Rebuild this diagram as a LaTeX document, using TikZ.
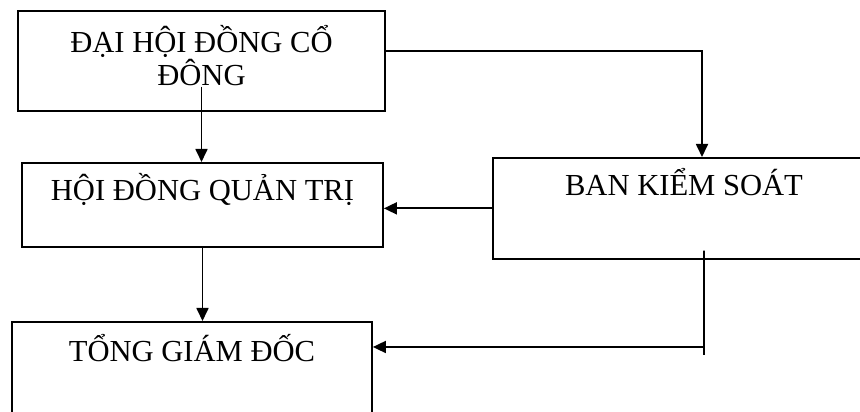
\documentclass[tikz,border=0pt]{standalone}
\usepackage{fontspec}
\setmainfont{Liberation Serif}
\usepackage{tikz}
\usetikzlibrary{arrows.meta}
\tikzset{
    khoi/.style={draw,line width=1pt,rectangle,inner sep=0pt,anchor=north,align=center,
        font=\fontsize{17.4}{17}\selectfont},
    muiten/.style={line width=1pt,-{Triangle[length=2.6mm,width=2.4mm]}},
    duong/.style={line width=1pt}
}

\begin{document}
\begin{tikzpicture}
    \useasboundingbox (0,0) rectangle (17.2,8.24);
    \clip (0,0) rectangle (17.2,8.24);
    \node[khoi,minimum width=7.34cm,text height=1.5cm,text depth=0.5cm] (dhdcd) at (4.03,8.04) {ĐẠI HỘI ĐỒNG CỔ\\ĐÔNG};
    \node[khoi,minimum width=7.22cm,text height=0.76cm,text depth=0.92cm] (hdqt) at (4.05,5.00) {HỘI ĐỒNG QUẢN TRỊ};
    \node[khoi,minimum width=7.64cm,text height=0.76cm,text depth=1.26cm] (bks) at (13.68,5.10) {BAN KIỂM SOÁT};
    \node[khoi,minimum width=7.20cm,text height=0.80cm,text depth=1.10cm] (tgd) at (3.84,1.82) {TỔNG GIÁM ĐỐC};
    \draw[muiten] ([yshift=2mm]dhdcd.east) -| ([xshift=3.6mm]bks.north);
    \draw[muiten] ([yshift=5mm]dhdcd.south) -- (dhdcd.south |- hdqt.north);
    \draw[muiten] (bks.west) -- (bks.west -| hdqt.east);
    \draw[muiten] (hdqt.south) -- (hdqt.south |- tgd.north);
    \coordinate (re) at (14.08,1.30);
    \draw[duong] ([xshift=4mm,yshift=1.8mm]bks.south) -- ([yshift=-1.6mm]re);
    \draw[muiten] (re) -- (re -| tgd.east);
\end{tikzpicture}
\end{document}
